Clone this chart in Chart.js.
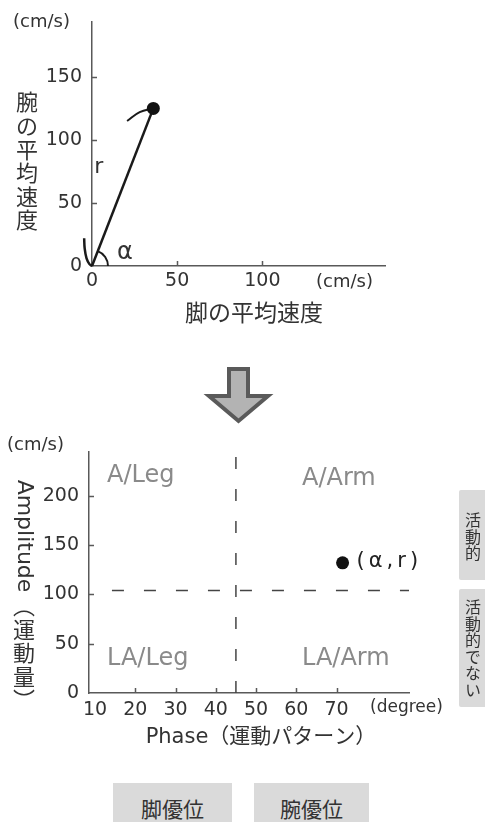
<!DOCTYPE html>
<html lang="ja">
<head>
<meta charset="utf-8">
<title>脚と腕の平均速度 / Phase-Amplitude</title>
<script src="https://cdn.jsdelivr.net/npm/chart.js@4.4.1/dist/chart.umd.min.js"></script>
<style>
  html, body { margin: 0; padding: 0; background: #fff; }
  body { position: relative; width: 485px; height: 822px; overflow: hidden;
         font-family: "DejaVu Sans", "Noto Sans CJK JP", sans-serif; color: #333; }
  canvas { position: absolute; left: 0; }
  #speedChart { top: 0; }
  #phaseChart { top: 430px; }
  .tag { position: absolute; background: #dadada; border-radius: 2px; }
  .vtext { position: absolute; writing-mode: vertical-rl; font-family: "Noto Sans CJK JP", sans-serif;
           font-size: 16px; line-height: 16px; letter-spacing: 0.5px; color: #333; }
  .btag { position: absolute; top: 783px; height: 50px; background: #dadada; display: flex;
          align-items: center; justify-content: center; font-family: "Noto Sans CJK JP", sans-serif;
          font-size: 21px; color: #333; }
  #arrow { position: absolute; left: 0; top: 0; }
</style>
</head>
<body>
<canvas id="speedChart" width="485" height="330"></canvas>

<svg id="arrow" width="485" height="440">
  <polygon points="229,369 248,369 248,396 268,396 238.5,421 209,396 229,396"
           fill="#b3b3b3" stroke="#5a5a5a" stroke-width="4" stroke-linejoin="miter"/>
</svg>

<canvas id="phaseChart" width="485" height="330"></canvas>

<div class="tag" style="left:459px; top:490px; width:30px; height:90px;"></div>
<div class="vtext" style="left:465px; top:512px;">活動的</div>
<div class="tag" style="left:459px; top:589px; width:30px; height:118px;"></div>
<div class="vtext" style="left:465px; top:599px;">活動的でない</div>

<div class="btag" style="left:113px; width:119px;">脚優位</div>
<div class="btag" style="left:254px; width:115px;">腕優位</div>

<script>
// 上のグラフ：脚の平均速度 (x) と 腕の平均速度 (y), cm/s
const legSpeed = [0, 36];
const armSpeed = [0, 125];
const trailLeg = [20.6, 28, 36];
const trailArm = [115, 122, 125];
// 原点から上へ戻る軌跡（x が減る順）
const startLeg = [0, -1.5, -3.2, -4.3, -4.6];
const startArm = [0, 1.5, 6, 14, 22];
const speedXTicks = [0, 50, 100];
const speedYTicks = [0, 50, 100, 150];
const speedXMax = 172;
const speedYMax = 194;

// 下のグラフ：Phase (degree) と Amplitude (cm/s)
const phaseTicks = [10, 20, 30, 40, 50, 60, 70];
const ampTicks = [0, 50, 100, 150, 200];
const samplePhase = [71.5];
const sampleAmp = [132];
const phaseSplit = 45;
const ampSplit = 104;
const phaseRange = [8.5, 88];
const ampMax = 245;

const axisColor = '#595959';
const inkColor = '#1a1a1a';
const latin = '"DejaVu Sans", "Noto Sans CJK JP"';
const cjk = '"Noto Sans CJK JP", "DejaVu Sans"';

function toPoints(xs, ys) {
    return xs.map((v, i) => ({ x: v, y: ys[i] }));
}

// 文字を描くプラグイン（縦書き・回転も）
const textPlugin = {
    id: 'texts',
    afterDraw(chart, args, opts) {
        const ctx = chart.ctx;
        (opts.items || []).forEach(it => {
            ctx.save();
            ctx.font = it.font;
            ctx.fillStyle = it.color || '#333';
            ctx.textAlign = it.align || 'left';
            ctx.textBaseline = it.baseline || 'middle';
            if (it.spacing) ctx.letterSpacing = it.spacing;
            ctx.translate(it.x, it.y);
            if (it.rotate) ctx.rotate(it.rotate);
            if (it.stack) {
                Array.from(it.text).forEach((ch, i) => ctx.fillText(ch, 0, i * it.stack));
            } else {
                ctx.fillText(it.text, 0, 0);
            }
            ctx.restore();
        });
    }
};

// 内向きの目盛り線
const innerTicks = {
    id: 'innerTicks',
    afterDraw(chart) {
        const { ctx, chartArea: a, scales: { x, y } } = chart;
        ctx.save();
        ctx.strokeStyle = axisColor;
        ctx.lineWidth = 1.5;
        ctx.beginPath();
        x.ticks.slice(1).forEach(t => {
            const px = Math.round(x.getPixelForValue(t.value)) + 0.5;
            ctx.moveTo(px, a.bottom);
            ctx.lineTo(px, a.bottom - 5);
        });
        y.ticks.slice(1).forEach(t => {
            const py = Math.round(y.getPixelForValue(t.value)) + 0.5;
            ctx.moveTo(a.left, py);
            ctx.lineTo(a.left + 5, py);
        });
        ctx.stroke();
        ctx.restore();
    }
};

// α の角度の弧と r のラベル
const anglePlugin = {
    id: 'angleArc',
    afterDatasetsDraw(chart) {
        const { ctx, scales: { x, y } } = chart;
        const x0 = x.getPixelForValue(legSpeed[0]);
        const y0 = y.getPixelForValue(armSpeed[0]);
        const x1 = x.getPixelForValue(legSpeed[1]);
        const y1 = y.getPixelForValue(armSpeed[1]);
        const ang = Math.atan2(y1 - y0, x1 - x0);
        ctx.save();
        ctx.strokeStyle = inkColor;
        ctx.lineWidth = 2;
        ctx.beginPath();
        ctx.arc(x0, y0, 16, ang, 0);
        ctx.stroke();
        ctx.fillStyle = '#333';
        ctx.textBaseline = 'middle';
        ctx.textAlign = 'center';
        ctx.font = '22px ' + latin;
        ctx.fillText('r', (x0 + x1) / 2 - 24, (y0 + y1) / 2 - 20);
        ctx.font = '24px ' + latin;
        ctx.fillText('α', x0 + 33, y0 - 13);
        ctx.restore();
    }
};

// (α, r) のラベル
const sampleLabel = {
    id: 'sampleLabel',
    afterDatasetsDraw(chart) {
        const { ctx, scales: { x, y } } = chart;
        const px = x.getPixelForValue(samplePhase[0]);
        const py = y.getPixelForValue(sampleAmp[0]);
        ctx.save();
        ctx.font = '21px ' + latin;
        ctx.fillStyle = '#222';
        ctx.textBaseline = 'middle';
        ctx.letterSpacing = '4px';
        ctx.fillText('(α,r)', px + 14, py - 1);
        ctx.restore();
    }
};

function fixedScale(ticksList, min, max, size, pad, horizontal) {
    return {
        type: 'linear',
        min: min,
        max: max,
        grid: { display: false, drawTicks: false },
        border: { display: true, color: axisColor, width: 1.5 },
        ticks: {
            color: '#333',
            padding: pad,
            font: { family: 'DejaVu Sans', size: 19 }
        },
        afterBuildTicks(scale) {
            scale.ticks = ticksList.map(v => ({ value: v }));
        },
        afterFit(scale) {
            if (horizontal) scale.height = size;
            else scale.width = size;
        }
    };
}

const baseOptions = {
    responsive: false,
    animation: false,
    events: []
};

// ---- 上のグラフ ----
new Chart(document.getElementById('speedChart'), {
    type: 'scatter',
    data: {
        datasets: [
            {
                data: toPoints(legSpeed, armSpeed),
                showLine: true,
                borderColor: inkColor,
                borderWidth: 2.5,
                pointRadius: [0, 6.5],
                pointBackgroundColor: '#111',
                pointBorderWidth: 0,
                clip: false
            },
            {
                data: toPoints(trailLeg, trailArm),
                showLine: true,
                tension: 0.4,
                borderColor: inkColor,
                borderWidth: 2,
                pointRadius: 0,
                clip: false
            },
            {
                data: toPoints(startLeg, startArm),
                showLine: true,
                tension: 0.4,
                borderColor: inkColor,
                borderWidth: 2.5,
                pointRadius: 0,
                clip: false
            }
        ]
    },
    options: {
        ...baseOptions,
        layout: { padding: { left: 0, top: 15, right: 100, bottom: 0 } },
        scales: {
            x: fixedScale(speedXTicks, 0, speedXMax, 64, 4, true),
            y: fixedScale(speedYTicks, 0, speedYMax, 92, 10, false)
        },
        plugins: {
            legend: { display: false },
            tooltip: { enabled: false },
            texts: {
                items: [
                    { text: '(cm/s)', x: 13, y: 22, font: '18px ' + latin },
                    { text: '(cm/s)', x: 316, y: 282, font: '18px ' + latin },
                    { text: '脚の平均速度', x: 254, y: 312, align: 'center', font: '23px ' + cjk },
                    { text: '腕の平均速度', x: 27, y: 102, align: 'center', stack: 23.6, font: '22px ' + cjk }
                ]
            }
        }
    },
    plugins: [textPlugin, innerTicks, anglePlugin]
});

// ---- 下のグラフ ----
new Chart(document.getElementById('phaseChart'), {
    type: 'scatter',
    data: {
        datasets: [
            {
                data: toPoints(samplePhase, sampleAmp),
                pointRadius: 6.5,
                pointBackgroundColor: '#111',
                pointBorderWidth: 0
            },
            {
                data: toPoints([phaseSplit, phaseSplit], [0, ampMax]),
                showLine: true,
                borderColor: '#444',
                borderWidth: 1.5,
                borderDash: [12, 20],
                pointRadius: 0
            },
            {
                data: toPoints([14.2, phaseRange[1]], [ampSplit, ampSplit]),
                showLine: true,
                borderColor: '#444',
                borderWidth: 1.5,
                borderDash: [12, 20],
                pointRadius: 0
            }
        ]
    },
    options: {
        ...baseOptions,
        layout: { padding: { left: 0, top: 13, right: 76, bottom: 0 } },
        scales: {
            x: fixedScale(phaseTicks, phaseRange[0], phaseRange[1], 67, 6, true),
            y: fixedScale(ampTicks, 0, ampMax, 89, 10, false)
        },
        plugins: {
            legend: { display: false },
            tooltip: { enabled: false },
            texts: {
                items: [
                    { text: '(cm/s)', x: 7, y: 15, font: '18px ' + latin },
                    { text: '(degree)', x: 370, y: 278, font: '17px ' + latin },
                    { text: 'Phase（運動パターン）', x: 261, y: 308, align: 'center', font: '21px ' + latin },
                    { text: 'Amplitude', x: 24, y: 106, align: 'center', rotate: Math.PI / 2, font: '22px ' + latin },
                    { text: '︵運動量︶', x: 24, y: 176, align: 'center', stack: 23.5, font: '22px ' + cjk },
                    { text: 'A/Leg', x: 107, y: 52, baseline: 'alphabetic', color: '#8a8a8a', font: '24px ' + latin },
                    { text: 'A/Arm', x: 302, y: 55, baseline: 'alphabetic', color: '#8a8a8a', font: '24px ' + latin },
                    { text: 'LA/Leg', x: 107, y: 235, baseline: 'alphabetic', color: '#8a8a8a', font: '24px ' + latin },
                    { text: 'LA/Arm', x: 302, y: 235, baseline: 'alphabetic', color: '#8a8a8a', font: '24px ' + latin }
                ]
            }
        }
    },
    plugins: [textPlugin, innerTicks, sampleLabel]
});
</script>
</body>
</html>
